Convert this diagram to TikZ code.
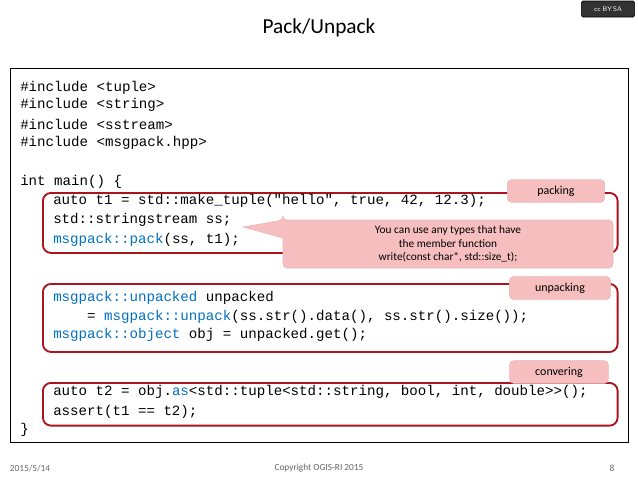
\documentclass[tikz,border=0pt]{standalone}
\usepackage{fontspec}
\setmainfont{Carlito}
\setmonofont{Liberation Mono}
\definecolor{kw}{RGB}{0,112,192}
\definecolor{redb}{RGB}{170,20,30}
\definecolor{pinkf}{RGB}{246,190,190}
\begin{document}
\begin{tikzpicture}[x=0.75pt,y=-0.75pt,
  code/.style={anchor=west,inner sep=0pt,font=\ttfamily\fontsize{10.6pt}{12pt}\selectfont},
  grp/.style={draw=redb,line width=1.4pt,rounded corners=6pt,anchor=north west},
  tag/.style={fill=pinkf,draw=redb!30,rounded corners=3pt,font=\fontsize{9pt}{10pt}\selectfont,minimum height=17pt,inner sep=1pt},
  foot/.style={font=\fontsize{7pt}{8pt}\selectfont,text=black!60}]
\useasboundingbox (0,0) rectangle (638,479);
\node (title) at (319,28) {\fontsize{16pt}{18pt}\selectfont Pack/Unpack};
\node[draw,fill=black!80,rounded corners=1pt,minimum width=40pt,minimum height=12pt,text=white,font=\tiny\sffamily] (cc) at (608,9) {cc\,\,BY\,SA};
\draw (10,68) rectangle (628,442);
\node[grp,minimum width=431pt,minimum height=45pt] (g1) at (42,192) {};
\node[grp,minimum width=431pt,minimum height=51pt] (g2) at (42,283) {};
\node[grp,minimum width=431pt,minimum height=32pt] (g3) at (42,382) {};
\foreach \y/\t [count=\i] in {88/{\#include <tuple>},105/{\#include <string>},124/{\#include <sstream>},143/{\#include <msgpack.hpp>},182/{int main() \{}}
  \node[code] (a\i) at (20,\y) {\t};
\node[code] (b1) at (53,201) {auto t1 = std::make\_tuple("hello", true, 42, 12.3);};
\node[code] (b2) at (53,220) {std::stringstream ss;};
\node[code] (b3) at (53,240) {\textcolor{kw}{msgpack::pack}(ss, t1);};
\node[code] (c1) at (53,298) {\textcolor{kw}{msgpack::unpacked} unpacked};
\node[code] (c2) at (53,317) {\ \ \ \ = \textcolor{kw}{msgpack::unpack}(ss.str().data(), ss.str().size());};
\node[code] (c3) at (53,335) {\textcolor{kw}{msgpack::object} obj = unpacked.get();};
\node[code] (d1) at (53,392) {auto t2 = obj.\textcolor{kw}{as}<std::tuple<std::string, bool, int, double>{}>();};
\node[code] (d2) at (53,412) {assert(t1 == t2);};
\node[code] (d3) at (20,430) {\}};
\node[tag,minimum width=73pt] (t1) at (556,191) {packing};
\node[tag,minimum width=76pt] (t2) at (560,288) {unpacking};
\node[tag,minimum width=74pt] (t3) at (559,372) {convering};
\coordinate (ptr) at (243,227);
\fill[pinkf,draw=redb!30] (283,220) -- (ptr) -- (283,238) [rounded corners=3pt] -- (283,268) -- (613,268) -- (613,220) -- (283,220) -- cycle;
\node[align=center,font=\fontsize{8.5pt}{10pt}\selectfont,inner sep=0pt] (call) at (448,244) {You can use any types that have\\the member function\\write(const char*, std::size\_t);};
\node[foot] (f1) at (30,468) {2015/5/14};
\node[foot] (f2) at (319,468) {Copyright OGIS-RI 2015};
\node[foot] (f3) at (612,468) {8};
\end{tikzpicture}
\end{document}
